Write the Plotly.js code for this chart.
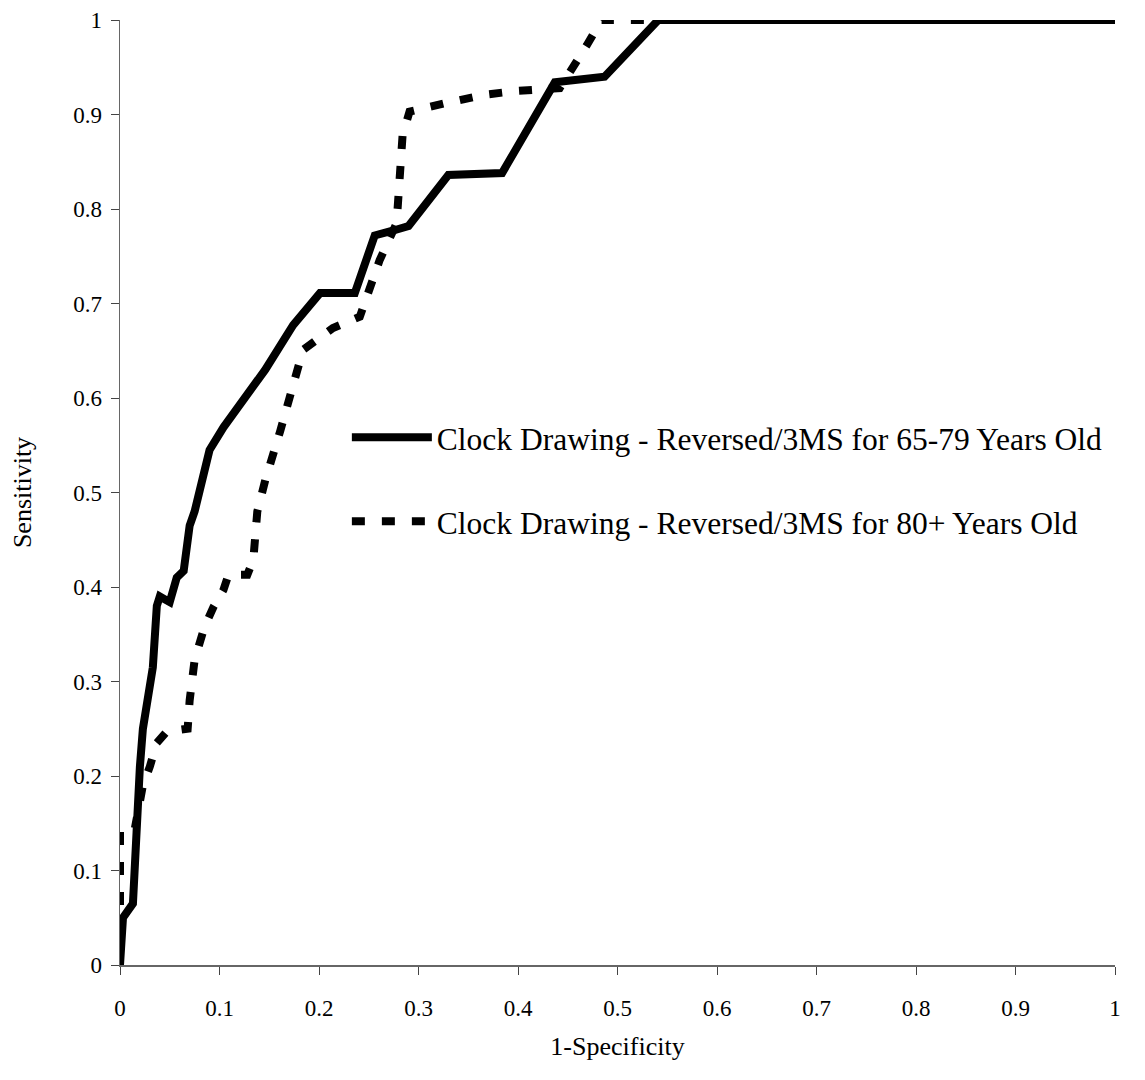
<!DOCTYPE html>
<html>
<head>
<meta charset="utf-8">
<script src="https://cdn.plot.ly/plotly-3.0.1.min.js"></script>
<style>html,body{margin:0;padding:0;background:#fff;}</style>
</head>
<body>
<div id="chart" style="width:1145px;height:1080px;"></div>
<script>
// Clock Drawing - Reversed/3MS, 65-79 years old (solid)
const fprYoung = [0, 0.003, 0.013, 0.016, 0.02, 0.023, 0.028, 0.033, 0.037, 0.04, 0.05, 0.057, 0.064, 0.07, 0.075, 0.083, 0.09, 0.104, 0.124, 0.146, 0.174, 0.201, 0.236, 0.256, 0.274, 0.29, 0.33, 0.384, 0.437, 0.487, 0.541, 1];
const tprYoung = [0, 0.05, 0.065, 0.15, 0.21, 0.25, 0.29, 0.315, 0.38, 0.39, 0.384, 0.41, 0.417, 0.465, 0.48, 0.52, 0.545, 0.569, 0.598, 0.63, 0.677, 0.711, 0.711, 0.772, 0.777, 0.782, 0.836, 0.838, 0.934, 0.94, 1.0, 1.0];

// Clock Drawing - Reversed/3MS, 80+ years old (dashed)
const fprOld = [0, 0, 0.015, 0.023, 0.03, 0.037, 0.047, 0.068, 0.07, 0.075, 0.085, 0.094, 0.104, 0.109, 0.128, 0.134, 0.138, 0.146, 0.161, 0.176, 0.184, 0.214, 0.241, 0.261, 0.278, 0.284, 0.291, 0.327, 0.367, 0.399, 0.442, 0.469, 0.484, 1];
const tprOld = [0, 0.145, 0.145, 0.19, 0.21, 0.235, 0.247, 0.25, 0.28, 0.323, 0.358, 0.379, 0.397, 0.413, 0.413, 0.429, 0.48, 0.513, 0.565, 0.619, 0.651, 0.674, 0.686, 0.746, 0.785, 0.878, 0.903, 0.912, 0.921, 0.925, 0.928, 0.973, 1.0, 1.0];

const seriesNames = [
  "Clock Drawing - Reversed/3MS for 65-79 Years Old",
  "Clock Drawing - Reversed/3MS for 80+ Years Old"
];
const xTickVals = [0, 0.1, 0.2, 0.3, 0.4, 0.5, 0.6, 0.7, 0.8, 0.9, 1];
const xTickText = ["0", "0.1", "0.2", "0.3", "0.4", "0.5", "0.6", "0.7", "0.8", "0.9", "1"];
const yTickVals = [0, 0.1, 0.2, 0.3, 0.4, 0.5, 0.6, 0.7, 0.8, 0.9, 1];
const yTickText = ["0", "0.1", "0.2", "0.3", "0.4", "0.5", "0.6", "0.7", "0.8", "0.9", "1"];

const FONT = "'Liberation Serif', 'Times New Roman', serif";

const traces = [
  {
    x: fprYoung, y: tprYoung, mode: "lines", name: seriesNames[0],
    legendgroup: "a",
    line: {color: "#000", width: 8, dash: "solid"}
  },
  {
    x: fprOld, y: tprOld, mode: "lines", name: seriesNames[1],
    legendgroup: "b",
    line: {color: "#000", width: 8, dash: "13px,17px"}
  }
];

const layout = {
  width: 1145, height: 1080,
  margin: {l: 120, r: 30, t: 20, b: 115},
  paper_bgcolor: "#fff", plot_bgcolor: "#fff",
  font: {family: FONT, color: "#000", size: 23},
  showlegend: true,
  legend: {
    x: 0.228, y: 0.587, xanchor: "left", yanchor: "top",
    font: {family: FONT, size: 31.5, color: "#000"},
    bgcolor: "rgba(0,0,0,0)",
    tracegroupgap: 40,
    traceorder: "grouped",
    itemwidth: 80
  },
  xaxis: {
    range: [0, 1], tickvals: xTickVals, ticktext: xTickText,
    showgrid: false, zeroline: false, showline: true,
    linecolor: "#666", linewidth: 1.5,
    ticks: "outside", ticklen: 8, tickcolor: "#444", tickwidth: 1,
    ticklabelstandoff: 14,
    tickfont: {family: FONT, size: 23, color: "#000"},
    title: {text: "1-Specificity", font: {family: FONT, size: 26, color: "#000"}, standoff: 16}
  },
  yaxis: {
    range: [0, 1], tickvals: yTickVals, ticktext: yTickText,
    showgrid: false, zeroline: false, showline: true,
    linecolor: "#666", linewidth: 1.5,
    ticks: "outside", ticklen: 8, tickcolor: "#444", tickwidth: 1,
    ticklabelstandoff: 4,
    tickfont: {family: FONT, size: 23, color: "#000"},
    title: {text: "Sensitivity", font: {family: FONT, size: 26, color: "#000"}, standoff: 34}
  }
};

Plotly.newPlot("chart", traces, layout, {displayModeBar: false, staticPlot: true});
</script>
</body>
</html>
